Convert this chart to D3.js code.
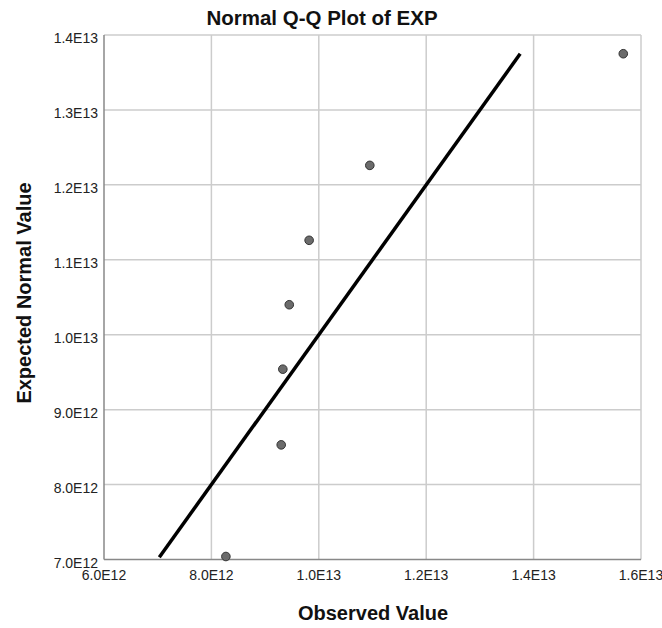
<!DOCTYPE html>
<html><head><meta charset="utf-8">
<script src="https://cdn.jsdelivr.net/npm/d3@7"></script>
<style>body{margin:0;background:#fff}svg{display:block}text{font-family:"Liberation Sans",Arial,sans-serif}</style>
</head><body>
<svg id="c" width="662" height="628"></svg>
<script>
const observed = [8.27e12, 9.30e12, 9.33e12, 9.45e12, 9.82e12, 10.95e12, 15.67e12];
const expected = [7.04e12, 8.53e12, 9.54e12, 10.40e12, 11.26e12, 12.26e12, 13.75e12];
const xTicks = [6e12, 8e12, 10e12, 12e12, 14e12, 16e12];
const yTicks = [7e12, 8e12, 9e12, 10e12, 11e12, 12e12, 13e12, 14e12];
const xTickLabels = ["6.0E12","8.0E12","1.0E13","1.2E13","1.4E13","1.6E13"];
const yTickLabels = ["7.0E12","8.0E12","9.0E12","1.0E13","1.1E13","1.2E13","1.3E13","1.4E13"];
const refLine = [7.03e12, 13.75e12];

const svg = d3.select("#c");
const L = 104, R = 641, T = 35, B = 559.5;
const x = d3.scaleLinear().domain([6e12, 16e12]).range([L, R]);
const y = d3.scaleLinear().domain([7e12, 14e12]).range([B, T]);

const g = svg.append("g");
g.selectAll(".vg").data(xTicks.slice(1)).join("line")
  .attr("x1", d => x(d)).attr("x2", d => x(d)).attr("y1", T).attr("y2", B)
  .attr("stroke", "#cccccc").attr("stroke-width", 1.5);
g.selectAll(".hg").data(yTicks.slice(1)).join("line")
  .attr("x1", L).attr("x2", R).attr("y1", d => y(d)).attr("y2", d => y(d))
  .attr("stroke", "#cccccc").attr("stroke-width", 1.5);
g.append("line").attr("x1", L).attr("x2", L).attr("y1", T).attr("y2", B).attr("stroke", "#888").attr("stroke-width", 1.5);
g.append("line").attr("x1", L).attr("x2", R).attr("y1", B).attr("y2", B).attr("stroke", "#888").attr("stroke-width", 1.5);

g.selectAll(".xl").data(xTicks).join("text")
  .attr("x", d => x(d)).attr("y", 580).attr("text-anchor", "middle")
  .attr("font-size", 14).attr("fill", "#222")
  .text((d, i) => xTickLabels[i]);
g.selectAll(".yl").data(yTicks).join("text")
  .attr("x", 98).attr("y", d => y(d) + 8).attr("text-anchor", "end")
  .attr("font-size", 14).attr("fill", "#222")
  .text((d, i) => yTickLabels[i]);

g.append("line")
  .attr("x1", x(refLine[0])).attr("y1", y(refLine[0]))
  .attr("x2", x(refLine[1])).attr("y2", y(refLine[1]))
  .attr("stroke", "#000").attr("stroke-width", 3.5);

g.selectAll(".pt").data(observed).join("circle")
  .attr("cx", d => x(d)).attr("cy", (d, i) => y(expected[i])).attr("r", 4.3)
  .attr("fill", "#6b6b6b").attr("stroke", "#333").attr("stroke-width", 1);

svg.append("text").attr("x", 322).attr("y", 25).attr("text-anchor", "middle")
  .attr("font-size", 20.5).attr("font-weight", "bold").attr("fill", "#111").text("Normal Q-Q Plot of EXP");
svg.append("text").attr("x", 373).attr("y", 620).attr("text-anchor", "middle")
  .attr("font-size", 20).attr("font-weight", "bold").attr("fill", "#111").text("Observed Value");
svg.append("text").attr("transform", "translate(31,293) rotate(-90)").attr("text-anchor", "middle")
  .attr("font-size", 20).attr("font-weight", "bold").attr("fill", "#111").text("Expected Normal Value");
</script>
</body></html>
